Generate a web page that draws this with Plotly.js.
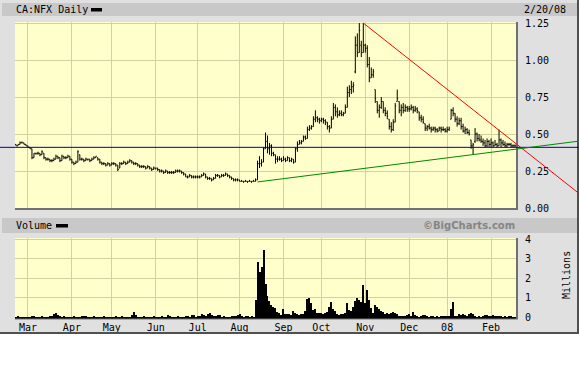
<!DOCTYPE html>
<html><head><meta charset="utf-8">
<script src="https://cdn.plot.ly/plotly-3.0.1.min.js"></script>
<style>html,body{margin:0;padding:0;background:#ffffff;}#chart{width:579px;height:384px;}</style>
</head><body><div id="chart"></div>
<script>
// ---- calendar ----
const startDate = '2007-02-21';
const endDate = '2008-02-20';
const holidays = ['2007-04-06','2007-05-21','2007-07-02','2007-08-06','2007-09-03','2007-10-08','2007-12-25','2007-12-26','2008-01-01','2008-02-18'];

// ---- daily prices (CA:NFX) ----
const openP = [
 .43,.42,.43,.44,.44,.43,
 .42,.41,.40,.34,.37,.37,.37,.36,.37,.34,.33,.33,.32,.32,.33,.35,.34,.32,.35,.34,.34,.35,
 .33,.31,.30,.31,.36,.33,.33,.32,.33,.33,.32,.33,.34,.34,.33,.31,.30,.30,.29,.30,
 .29,.30,.30,.29,.27,.30,.30,.31,.30,.31,.32,.31,.30,.30,.29,.28,.28,.28,.27,.28,.27,.26,
 .27,.27,.26,.25,.25,.24,.25,.24,.24,.24,.24,.25,.25,.25,.24,.23,.21,.21,.22,.21,.21,
 .21,.21,.21,.22,.23,.21,.20,.20,.19,.20,.22,.22,.21,.22,.22,.23,.22,.21,.20,.19,.19,
 .19,.18,.18,.18,.18,.18,.18,.18,.18,.19,.30,.30,.31,.40,.45,.40,.42,.37,.36,.33,.33,.33,
 .32,.33,.32,.34,.32,.33,.31,.40,.43,.44,.45,.48,.47,.53,.54,.55,.60,.61,.60,
 .59,.60,.59,.58,.55,.54,.60,.68,.65,.63,.64,.63,.64,.68,.78,.80,.82,.92,1.10,1.05,1.10,1.05,
 1.10,1.08,.97,.88,.90,.80,.72,.66,.68,.72,.66,.64,.60,.55,.53,.58,.72,.72,.66,.68,.66,.68,
 .67,.67,.68,.66,.67,.65,.61,.60,.57,.54,.55,.54,.53,.54,.53,.52,.54,.53,.53,
 .52,.53,.60,.66,.64,.60,.57,.59,.55,.52,.53,.51,.46,.42,.45,.50,.47,.46,.45,.44,.42,.45,
 .43,.44,.42,.43,.42,.46,.44,.43,.42,.43,.43,.42,.42
];
const highP = [
 .43,.43,.45,.45,.44,.43,
 .42,.41,.40,.37,.37,.38,.37,.39,.37,.34,.34,.33,.33,.34,.36,.35,.34,.36,.35,.35,.36,.35,
 .33,.31,.32,.39,.36,.34,.33,.34,.33,.33,.34,.35,.35,.34,.33,.31,.31,.30,.31,.30,
 .31,.31,.30,.29,.31,.31,.32,.31,.32,.33,.32,.31,.31,.30,.29,.29,.29,.28,.29,.28,.27,.28,
 .27,.27,.26,.26,.25,.26,.25,.25,.25,.25,.26,.26,.26,.25,.24,.23,.22,.23,.22,.22,.22,
 .22,.22,.23,.24,.23,.21,.21,.20,.21,.23,.23,.22,.23,.23,.24,.23,.22,.21,.20,.20,.20,
 .19,.19,.18,.19,.18,.19,.18,.19,.20,.32,.35,.33,.41,.51,.49,.44,.43,.38,.36,.35,.35,.34,
 .35,.34,.35,.34,.34,.33,.41,.45,.46,.46,.49,.49,.55,.56,.56,.62,.66,.62,.61,
 .61,.61,.60,.58,.56,.62,.71,.70,.68,.66,.66,.65,.70,.82,.83,.86,.85,1.16,1.18,1.25,1.13,1.25,
 1.11,1.10,1.02,.95,.94,.80,.72,.70,.75,.72,.68,.66,.60,.58,.60,.71,.80,.72,.70,.71,.70,.69,
 .69,.70,.69,.69,.68,.65,.63,.62,.57,.56,.57,.55,.55,.55,.54,.55,.55,.55,.54,
 .55,.55,.67,.68,.64,.62,.61,.61,.57,.55,.54,.53,.46,.44,.54,.51,.50,.49,.47,.46,.47,.46,
 .47,.45,.46,.44,.53,.47,.46,.45,.44,.44,.44,.43,.43
];
const lowP = [
 .42,.42,.43,.44,.43,.42,
 .41,.40,.33,.34,.36,.36,.35,.36,.33,.32,.32,.31,.31,.32,.33,.33,.31,.32,.33,.33,.34,.32,
 .30,.29,.30,.31,.32,.32,.31,.32,.32,.31,.32,.33,.34,.32,.30,.29,.29,.28,.29,.28,
 .29,.29,.28,.25,.27,.29,.30,.29,.30,.31,.30,.29,.29,.28,.27,.27,.27,.26,.27,.26,.25,.26,
 .26,.25,.24,.24,.23,.24,.23,.23,.23,.23,.24,.24,.24,.23,.22,.21,.20,.21,.20,.20,.20,
 .20,.20,.21,.22,.20,.19,.19,.18,.19,.20,.21,.20,.21,.21,.22,.21,.20,.19,.18,.18,.18,
 .18,.18,.17,.18,.17,.18,.17,.18,.18,.19,.27,.28,.31,.40,.37,.36,.35,.35,.30,.31,.32,.31,
 .32,.31,.32,.31,.31,.30,.31,.38,.43,.43,.45,.46,.47,.52,.53,.55,.58,.58,.57,
 .58,.57,.56,.53,.51,.54,.60,.62,.61,.62,.62,.62,.64,.68,.75,.77,.78,.91,1.02,1.05,1.02,1.05,
 1.05,.95,.85,.88,.88,.71,.64,.61,.67,.64,.62,.60,.53,.51,.52,.58,.72,.64,.62,.64,.65,.65,
 .65,.66,.64,.65,.64,.59,.58,.57,.52,.52,.53,.51,.52,.51,.51,.52,.51,.52,.51,
 .51,.52,.60,.62,.58,.55,.56,.53,.51,.50,.50,.49,.40,.36,.44,.45,.45,.44,.42,.41,.41,.41,
 .41,.41,.42,.41,.42,.41,.42,.41,.41,.42,.41,.41,.41
];
const closeP = [
 .42,.43,.44,.44,.43,.42,
 .41,.40,.34,.37,.37,.37,.36,.38,.34,.33,.33,.32,.32,.33,.35,.34,.32,.35,.34,.34,.35,.33,
 .31,.30,.31,.38,.33,.33,.32,.33,.33,.32,.33,.34,.35,.33,.31,.30,.30,.29,.30,.29,
 .30,.30,.29,.26,.30,.30,.31,.30,.31,.32,.31,.30,.30,.29,.28,.28,.28,.27,.28,.27,.26,.27,
 .27,.26,.25,.25,.24,.25,.24,.24,.24,.24,.25,.25,.25,.24,.23,.21,.21,.22,.21,.21,.21,
 .21,.21,.22,.23,.21,.20,.20,.19,.20,.22,.22,.21,.22,.22,.23,.22,.21,.20,.19,.19,.19,
 .18,.18,.18,.18,.18,.18,.18,.18,.19,.30,.30,.31,.40,.45,.40,.42,.37,.36,.33,.33,.33,.32,
 .33,.32,.34,.32,.33,.31,.40,.43,.44,.45,.48,.47,.53,.54,.55,.60,.61,.60,.59,
 .60,.59,.58,.55,.54,.60,.68,.65,.63,.64,.63,.64,.68,.78,.80,.82,.83,1.10,1.05,1.20,1.05,1.10,
 1.08,.97,.88,.90,.92,.74,.66,.68,.72,.66,.64,.62,.55,.53,.58,.69,.74,.66,.68,.66,.68,.67,
 .67,.68,.66,.67,.66,.61,.60,.58,.54,.55,.54,.53,.54,.53,.52,.54,.53,.53,.52,
 .53,.54,.66,.64,.60,.57,.59,.55,.52,.53,.51,.50,.42,.43,.50,.47,.46,.45,.44,.42,.45,.43,
 .44,.42,.43,.42,.46,.44,.43,.42,.43,.43,.42,.42,.42
];
// ---- daily volume, millions ----
const volumeM = [
 .02,.03,.02,.01,.02,.02,
 .02,.01,.05,.03,.02,.01,.02,.03,.02,.01,.02,.03,.05,.15,.2,.12,.05,.02,.03,.02,.01,.02,
 .02,.03,.02,.01,.02,.05,.06,.03,.02,.01,.02,.03,.02,.01,.02,.02,.03,.01,.02,.02,
 .02,.01,.03,.02,.02,.03,.02,.01,.02,.02,.12,.25,.08,.02,.01,.02,.03,.02,.01,.02,.02,.03,
 .02,.01,.02,.03,.02,.02,.08,.06,.02,.01,.02,.03,.02,.02,.01,.05,.03,.02,.08,.1,.02,
 .03,.05,.15,.1,.04,.18,.2,.08,.03,.05,.12,.08,.02,.03,.02,.01,.02,.03,.04,.06,.1,
 .15,.04,.02,.06,.03,.02,.04,.02,.9,2.85,2.3,2.6,3.45,1.7,1.1,.85,.6,.5,.45,.28,.22,.1,
 .43,.17,.15,.17,.12,.3,.2,.14,.12,.14,.15,.3,.95,1.0,.7,.35,.4,.2,.2,
 .2,.18,.2,.26,.5,.78,.4,.3,.14,.12,.15,.14,.2,.7,.35,.3,.5,.85,1.0,.9,.8,1.65,
 .7,1.4,.9,.45,.2,.6,.5,.4,.3,.25,.18,.2,.18,.22,.26,.2,.18,.05,.03,.04,.03,.12,
 .14,.05,.26,.1,.03,.02,.03,.1,.08,.03,.02,.03,.04,.02,.03,.02,.05,.07,.05,
 .06,.07,.4,.8,.05,.03,.14,.12,.14,.1,.05,.18,.2,.15,.03,.02,.03,.02,.03,.09,.08,.06,
 .07,.08,.05,.03,.04,.03,.02,.03,.02,.04,.03,.02,.02
];

// ---- axis labels ----
const tickDates = ['2007-03-01','2007-04-02','2007-05-01','2007-06-01','2007-07-03','2007-08-01','2007-09-04','2007-10-01','2007-11-01','2007-12-03','2008-01-02','2008-02-01'];
const tickText = ['Mar','Apr','May','Jun','Jul','Aug','Sep','Oct','Nov','Dec','08','Feb'];
const priceTicks = [0, 0.25, 0.5, 0.75, 1.0, 1.25];
const volumeTicks = [0, 1, 2, 3, 4];

// ---- drawn lines ----
const supportLevel = 0.41;
const redDates = ['2007-10-31', '2008-02-20'];
const redValues = [1.25, 0.44];
const greenDates = ['2007-08-15', '2008-02-20'];
const greenValues = [0.176, 0.397];

function tradingDays(s, e) {
  const out = [];
  let t = Date.parse(s + 'T00:00:00Z');
  const end = Date.parse(e + 'T00:00:00Z');
  while (t <= end) {
    const d = new Date(t);
    const wd = d.getUTCDay();
    const iso = d.toISOString().slice(0, 10);
    if (wd !== 0 && wd !== 6 && holidays.indexOf(iso) < 0) out.push(iso);
    t += 86400000;
  }
  return out;
}
const dates = tradingDays(startDate, endDate);

// pixel helpers for decoration placement (plot area 15..516 x 22..317)
const X = px => (px - 15) / 501;
const Y = py => (317 - py) / 295;
const MONO = 'DejaVu Sans Mono, monospace';

const data = [
  {
    type: 'ohlc', x: dates, open: openP, high: highP, low: lowP, close: closeP,
    xaxis: 'x', yaxis: 'y', tickwidth: 0.45,
    increasing: {line: {color: '#000000', width: 1}},
    decreasing: {line: {color: '#000000', width: 1}},
    hoverinfo: 'skip'
  },
  {
    type: 'bar', x: dates, y: volumeM, xaxis: 'x', yaxis: 'y2',
    marker: {color: '#000000', line: {width: 0}}, hoverinfo: 'skip'
  }
];

const staticShapes = [
  // header bars
  {type: 'rect', xref: 'paper', yref: 'paper', x0: X(2), x1: X(577), y0: Y(16), y1: Y(3), fillcolor: '#c8c8c8', line: {width: 0}, layer: 'below'},
  {type: 'rect', xref: 'paper', yref: 'paper', x0: X(2), x1: X(577), y0: Y(233), y1: Y(218), fillcolor: '#c8c8c8', line: {width: 0}, layer: 'below'},
  // white area below chart
  {type: 'rect', xref: 'paper', yref: 'paper', x0: X(-10), x1: X(590), y0: Y(400), y1: Y(334), fillcolor: '#ffffff', line: {width: 0}, layer: 'below'},
  // outer border
  {type: 'line', xref: 'paper', yref: 'paper', x0: X(0), x1: X(579), y0: Y(333), y1: Y(333), line: {color: '#505050', width: 2}},
  {type: 'line', xref: 'paper', yref: 'paper', x0: X(578), x1: X(578), y0: Y(0), y1: Y(334), line: {color: '#505050', width: 2}},
  // legend swatches
  {type: 'rect', xref: 'paper', yref: 'paper', x0: X(91), x1: X(102), y0: Y(11.5), y1: Y(8), fillcolor: '#000000', line: {width: 0}},
  {type: 'rect', xref: 'paper', yref: 'paper', x0: X(56), x1: X(68), y0: Y(227.5), y1: Y(224), fillcolor: '#000000', line: {width: 0}},
  // panel shadows
  {type: 'line', xref: 'paper', yref: 'paper', x0: X(15), x1: X(518), y0: Y(209), y1: Y(209), line: {color: '#707070', width: 2}},
  {type: 'line', xref: 'paper', yref: 'paper', x0: X(517), x1: X(517), y0: Y(22), y1: Y(210), line: {color: '#707070', width: 2}},
  {type: 'line', xref: 'paper', yref: 'paper', x0: X(517), x1: X(517), y0: Y(238), y1: Y(319), line: {color: '#707070', width: 2}},
  {type: 'line', xref: 'paper', yref: 'paper', x0: X(15), x1: X(518), y0: Y(319), y1: Y(319), line: {color: '#707070', width: 1}},
  // support level
  {type: 'line', xref: 'paper', yref: 'y', x0: -0.1, x1: 1.2, y0: supportLevel, y1: supportLevel, line: {color: '#0000aa', width: 1}, layer: 'above'}
];

const layout = {
  width: 579, height: 384,
  margin: {l: 15, r: 63, t: 22, b: 67, pad: 0},
  paper_bgcolor: '#e0e0e0',
  plot_bgcolor: '#ffffcc',
  showlegend: false,
  font: {family: MONO, size: 10, color: '#000000'},
  bargap: 0,
  xaxis: {
    type: 'date', anchor: 'y2', domain: [0, 1],
    range: ['2007-02-20 12:00', '2008-02-20 12:00'],
    rangebreaks: [{bounds: ['sat', 'mon']}, {values: holidays}],
    rangeslider: {visible: false},
    tickmode: 'array', tickvals: tickDates, ticktext: tickText,
    ticks: '', showgrid: true, gridcolor: '#d2d29c', gridwidth: 1,
    showline: true, linecolor: '#000000', linewidth: 2,
    tickfont: {family: MONO, size: 10, color: '#000000'},
    fixedrange: true
  },
  yaxis: {
    domain: [Y(208), 1], anchor: 'x', side: 'right',
    range: [0, 1.257], tickmode: 'array', tickvals: priceTicks, tickformat: '.2f',
    ticks: 'outside', ticklen: 6, tickcolor: 'rgba(0,0,0,0)',
    showgrid: true, gridcolor: '#d2d29c', gridwidth: 1, zeroline: false,
    tickfont: {family: MONO, size: 10, color: '#000000'},
    fixedrange: true
  },
  yaxis2: {
    domain: [0, Y(238)], anchor: 'x', side: 'right',
    range: [0, 4.08], tickmode: 'array', tickvals: volumeTicks,
    ticks: 'outside', ticklen: 6, tickcolor: 'rgba(0,0,0,0)',
    showgrid: true, gridcolor: '#d2d29c', gridwidth: 1, zeroline: false,
    tickfont: {family: MONO, size: 10, color: '#000000'},
    fixedrange: true
  },
  shapes: staticShapes,
  annotations: [
    {text: 'CA:NFX Daily', xref: 'paper', yref: 'paper', x: X(14), y: Y(10), xanchor: 'left', yanchor: 'middle', showarrow: false, font: {family: MONO, size: 10, color: '#000000'}},
    {text: '2/20/08', xref: 'paper', yref: 'paper', x: X(522), y: Y(10), xanchor: 'left', yanchor: 'middle', showarrow: false, font: {family: MONO, size: 10, color: '#000000'}},
    {text: 'Volume', xref: 'paper', yref: 'paper', x: X(14), y: Y(225.5), xanchor: 'left', yanchor: 'middle', showarrow: false, font: {family: MONO, size: 10, color: '#000000'}},
    {text: '©BigCharts.com', xref: 'paper', yref: 'paper', x: X(517), y: Y(225.5), xanchor: 'right', yanchor: 'middle', showarrow: false, font: {family: 'DejaVu Sans, sans-serif', size: 10, color: '#858585', weight: 'bold'}},
    {text: 'Millions', xref: 'paper', yref: 'paper', x: X(566), y: Y(275), xanchor: 'center', yanchor: 'middle', textangle: -90, showarrow: false, font: {family: MONO, size: 10, color: '#000000'}}
  ]
};

const gd = document.getElementById('chart');
Plotly.newPlot(gd, data, layout, {staticPlot: true, displayModeBar: false}).then(function () {
  const xa = gd._fullLayout.xaxis;
  const toPaper = d => xa.c2p(xa.d2c(d)) / xa._length;
  function trend(ds, vs, color) {
    const a = toPaper(ds[0]), b = toPaper(ds[1]);
    const xe = 1.2;
    const ye = vs[0] + (vs[1] - vs[0]) * (xe - a) / (b - a);
    return {type: 'line', xref: 'paper', yref: 'y', x0: a, y0: vs[0], x1: xe, y1: ye, line: {color: color, width: 1}, layer: 'above'};
  }
  const shapes = staticShapes.concat([trend(redDates, redValues, '#ff0000'), trend(greenDates, greenValues, '#008800')]);
  return Plotly.relayout(gd, {shapes: shapes});
});
</script>
</body></html>
